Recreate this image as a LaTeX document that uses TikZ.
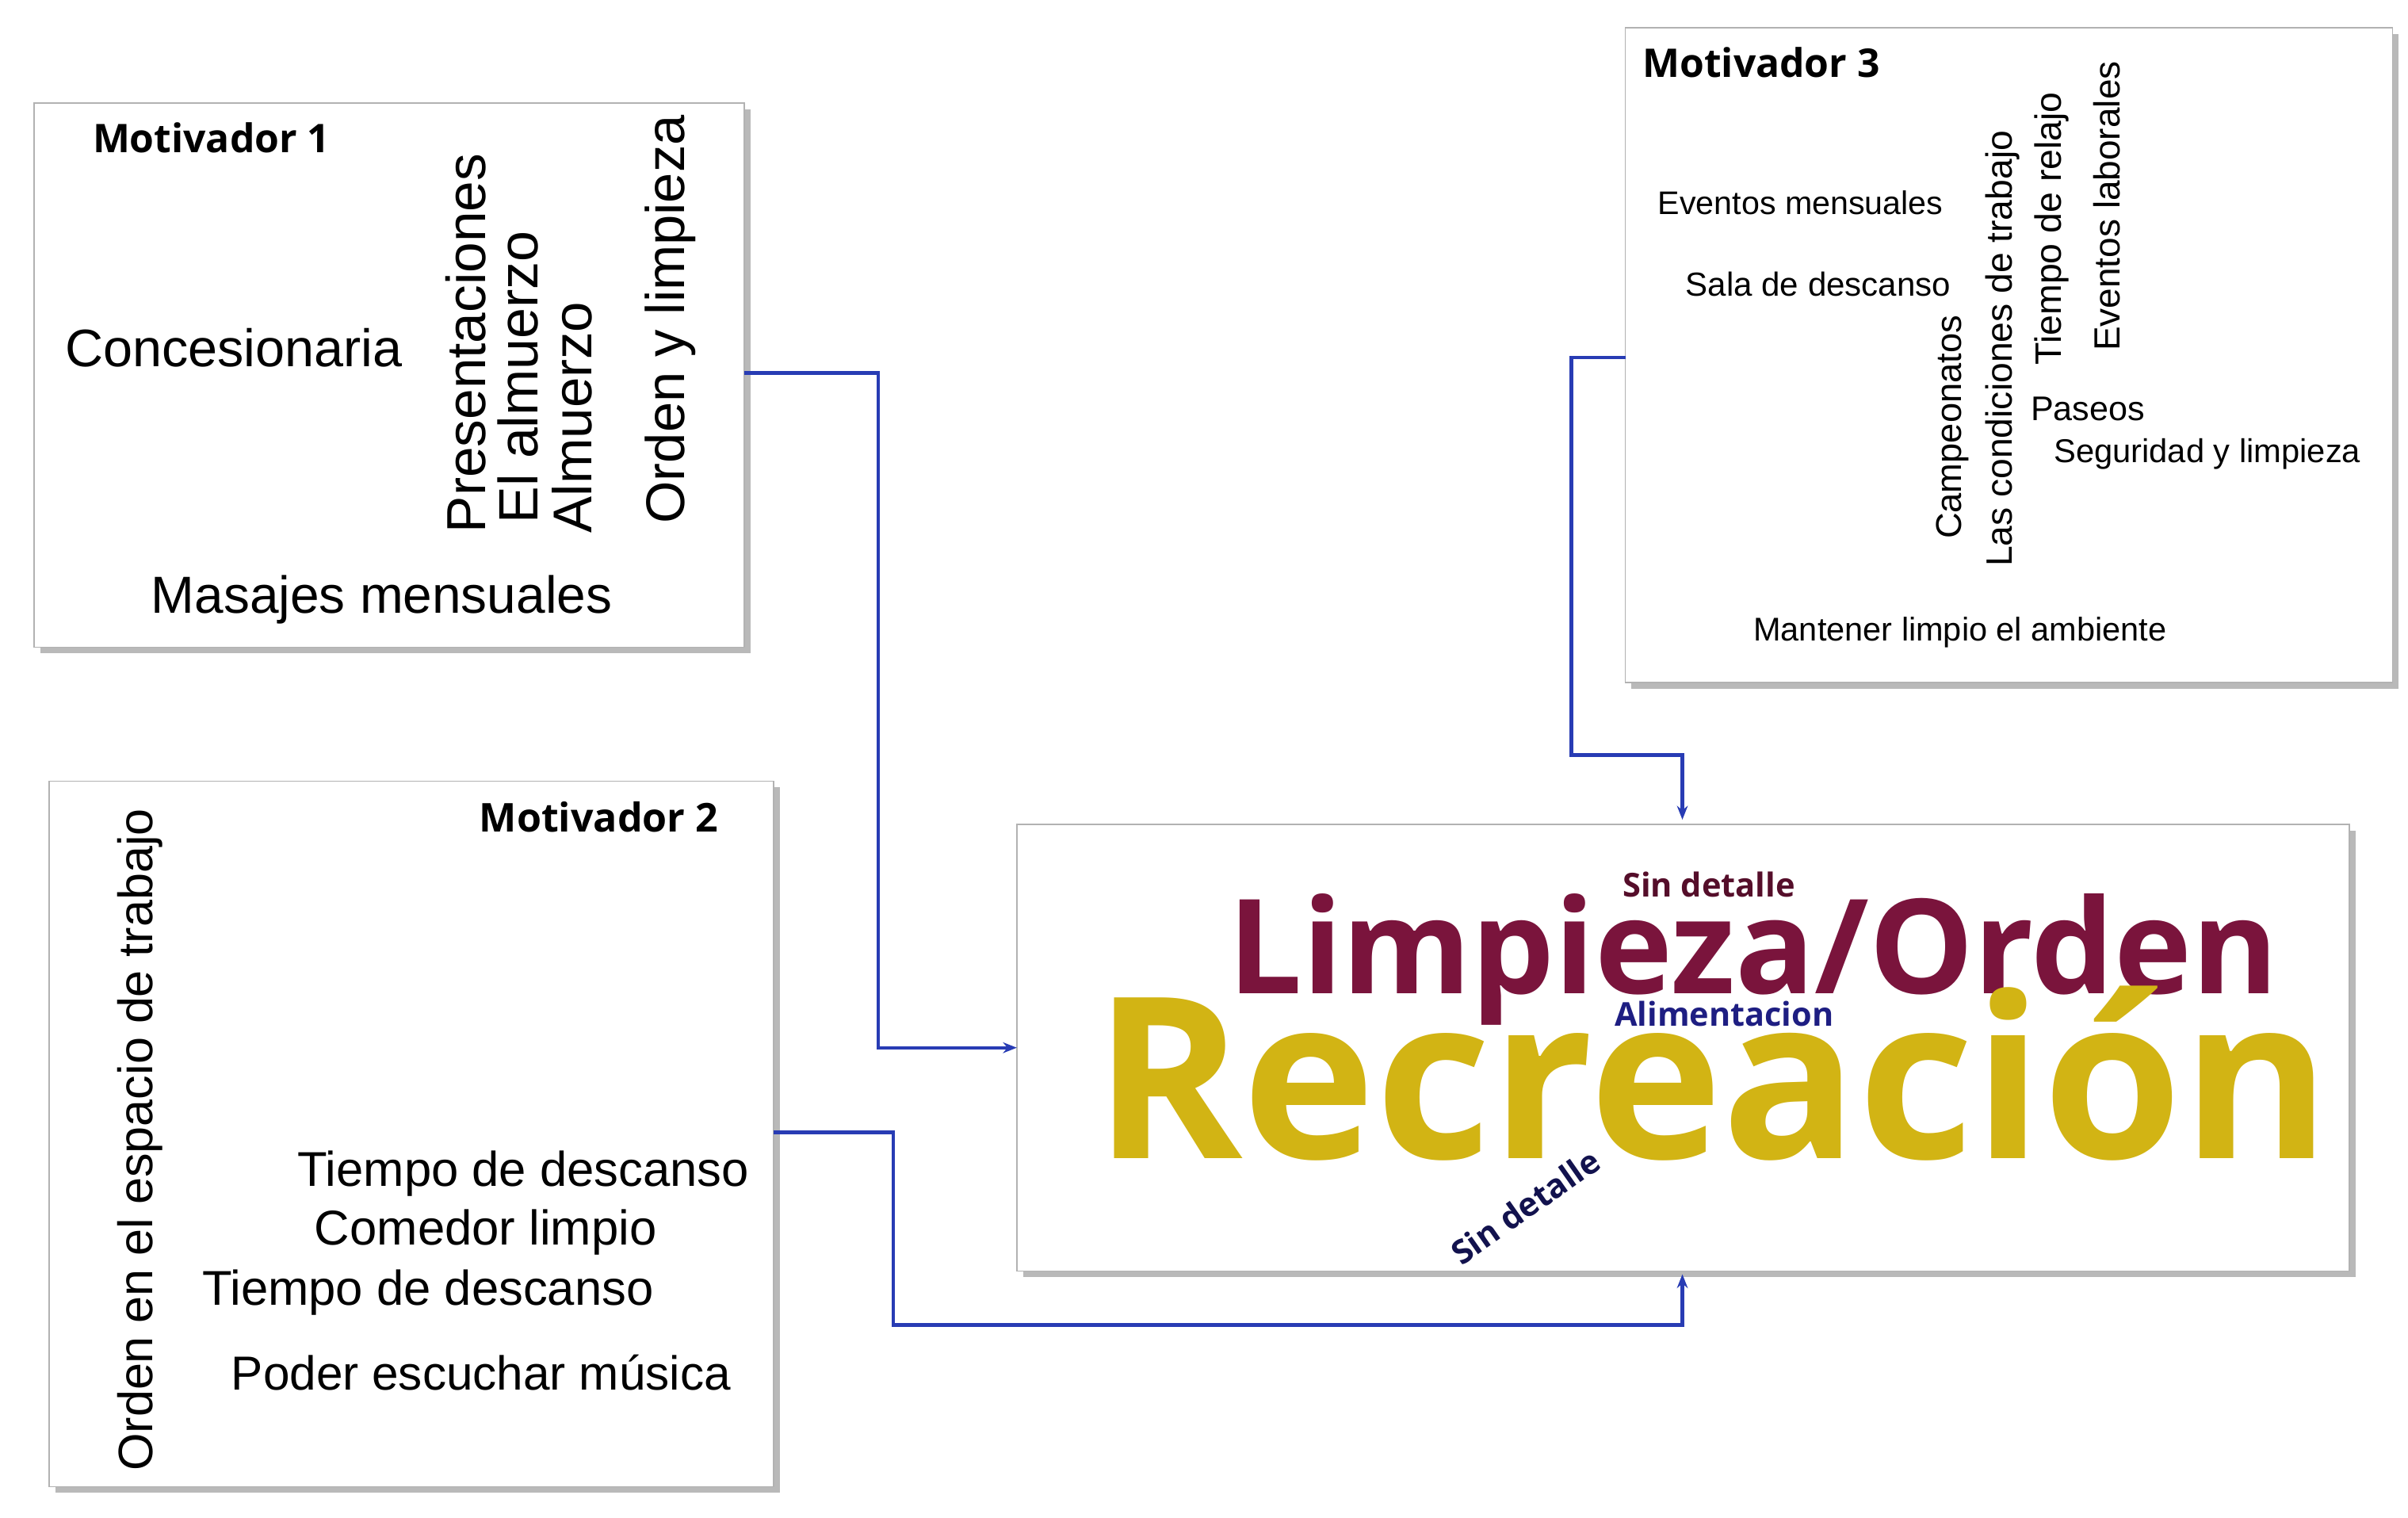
\documentclass[tikz,border=0pt]{standalone}
\usepackage{fontspec}
\setmainfont{Liberation Sans}
\newfontfamily\osans{Open Sans}
\usepackage{graphicx}
\usetikzlibrary{arrows.meta}
\definecolor{conn}{RGB}{40,60,180}
\definecolor{maroon}{RGB}{122,20,60}
\definecolor{gold}{RGB}{210,180,20}
\definecolor{navy}{RGB}{30,30,130}
\newcommand{\fw}[2]{\resizebox{#1pt}{!}{#2}}
\begin{document}
\begin{tikzpicture}[x=1pt,y=-1pt,
  box/.style={draw=gray!60,fill=white,line width=0.8},
  shad/.style={fill=gray!55},
  conn/.style={draw=conn,line width=2.2,-{Stealth[length=9,width=7]}},
  t/.style={inner sep=0,anchor=base west},
  r/.style={inner sep=0,anchor=base west,rotate=90}]
\useasboundingbox (0,0) rectangle (1563,985);
% boxes
\foreach \a/\b/\c/\d/\n in {22/67/483/420/m1,32/507/502/965/m2,1055/18/1553/443/m3,660/535/1525/825/c}{
  \fill[shad] (\a+4,\b+4) rectangle (\c+4,\d+4);
  \draw[box] (\a,\b) rectangle (\c,\d);
  \coordinate (\n nw) at (\a,\b);
}
\node[coordinate] (m1r) at (483,242) {};
\node[coordinate] (m2r) at (502,735) {};
\node[coordinate] (m3l) at (1055,232) {};
\node[coordinate] (cl) at (660,680) {};
\node[coordinate] (cb) at (1092,827) {};
\node[coordinate] (ct) at (1092,532) {};
\draw[conn] (m1r) -- (570,242) -- (570,680) -- (cl);
\draw[conn] (m2r) -- (580,735) -- (580,860) -- (1092,860) -- (cb);
\draw[conn] (m3l) -- (1020,232) -- (1020,490) -- (1092,490) -- (ct);
% M1
\node[t] (m1) at (60,99) {\fw{154}{\osans\bfseries Motivador 1}};
\node[t] (a1) at (42,238) {\fw{219}{Concesionaria}};
\node[r] (a2) at (315,346) {\fw{246}{Presentaciones}};
\node[r] (a3) at (349,340) {\fw{190}{El almuerzo}};
\node[r] (a4) at (384,346) {\fw{150}{Almuerzo}};
\node[r] (a5) at (444,340) {\fw{265}{Orden y limpieza}};
\node[t] (a6) at (98,398) {\fw{299}{Masajes mensuales}};
% M2
\node[t] (m2) at (311,540) {\fw{155}{\osans\bfseries Motivador 2}};
\node[r] (b1) at (99,955) {\fw{430}{Orden en el espacio de trabajo}};
\node[t] (b2) at (193,770) {\fw{293}{Tiempo de descanso}};
\node[t] (b3) at (204,808) {\fw{222}{Comedor limpio}};
\node[t] (b4) at (131,847) {\fw{293}{Tiempo de descanso}};
\node[t] (b5) at (150,902) {\fw{324}{Poder escuchar música}};
% M3
\node[t] (m3) at (1066,50) {\fw{154}{\osans\bfseries Motivador 3}};
\node[t] (c1) at (1076,139) {\fw{185}{Eventos mensuales}};
\node[t] (c2) at (1094,192) {\fw{172}{Sala de descanso}};
\node[r] (c3) at (1273,350) {\fw{145}{Campeonatos}};
\node[r] (c4) at (1306,368) {\fw{283}{Las condiciones de trabajo}};
\node[r] (c5) at (1338,237) {\fw{177}{Tiempo de relajo}};
\node[r] (c6) at (1376,228) {\fw{188}{Eventos laborales}};
\node[t] (c7) at (1318,273) {\fw{74}{Paseos}};
\node[t] (c8) at (1333,300) {\fw{199}{Seguridad y limpieza}};
\node[t] (c9) at (1138,416) {\fw{268}{Mantener limpio el ambiente}};
% center cloud
\node[t] (w1) at (797,645) {\fw{681}{\osans\bfseries\color{maroon}Limpieza/Orden}};
\node[t] (w2) at (710,752) {\fw{802}{\osans\bfseries\color{gold}Recreación}};
\node[t] (w3) at (1053,582) {\fw{112}{\osans\bfseries\color{maroon!70!black}Sin detalle}};
\node[t] (w4) at (1048,666) {\fw{142}{\osans\bfseries\color{navy}Alimentacion}};
\node[inner sep=0,rotate=35] (w5) at (990,783) {\fw{112}{\osans\bfseries\color{navy!60!black}Sin detalle}};
\end{tikzpicture}
\end{document}
